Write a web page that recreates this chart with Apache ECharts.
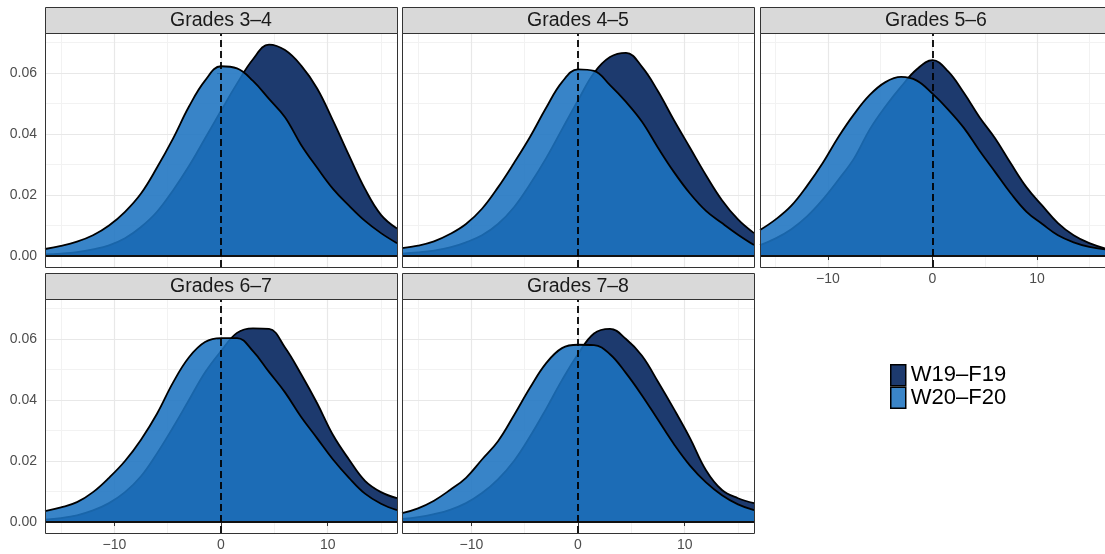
<!DOCTYPE html>
<html>
<head>
<meta charset="utf-8">
<script src="https://cdn.jsdelivr.net/npm/echarts@6/dist/echarts.min.js"></script>
<style>
  html, body { margin: 0; padding: 0; background: #fff; }
  #chart { width: 1105px; height: 554px; }
</style>
</head>
<body>
<div id="chart"></div>
<script>
const xs = [-16.5, -15, -13.5, -12, -10.5, -9, -7.5, -6, -4.5, -3, -1.5, 0,
            1.5, 3, 4.5, 6, 7.5, 9, 10.5, 12, 13.5, 15, 16.5];

const panelTitles = ['Grades 3–4', 'Grades 4–5', 'Grades 5–6', 'Grades 6–7', 'Grades 7–8'];
const seriesNames = ['W19–F19', 'W20–F20'];

const w19Grades34 = [0.0005, 0.0008, 0.0013, 0.0022, 0.0035, 0.0058, 0.0095, 0.0145, 0.0215, 0.0295, 0.0385, 0.0476,
                     0.0565, 0.0645, 0.0693, 0.0675, 0.0625, 0.0550, 0.0444, 0.0330, 0.0220, 0.0135, 0.0090];
const w20Grades34 = [0.0023, 0.0033, 0.0047, 0.0068, 0.0100, 0.0145, 0.0205, 0.0290, 0.0385, 0.0490, 0.0575, 0.0622,
                     0.0615, 0.0574, 0.0515, 0.0455, 0.0365, 0.0290, 0.0220, 0.0165, 0.0115, 0.0075, 0.0042];

const w19Grades45 = [0.0008, 0.0012, 0.0018, 0.0028, 0.0045, 0.0068, 0.0105, 0.0160, 0.0235, 0.0320, 0.0415, 0.0510,
                     0.0600, 0.0652, 0.0666, 0.0620, 0.0540, 0.0445, 0.0355, 0.0265, 0.0183, 0.0120, 0.0075];
const w20Grades45 = [0.0026, 0.0034, 0.0048, 0.0072, 0.0105, 0.0155, 0.0225, 0.0305, 0.0390, 0.0485, 0.0570, 0.0612,
                     0.0607, 0.0560, 0.0505, 0.0440, 0.0355, 0.0275, 0.0205, 0.0148, 0.0108, 0.0070, 0.0036];

const w19Grades56 = [0.0036, 0.0058, 0.0088, 0.0130, 0.0185, 0.0250, 0.0320, 0.0415, 0.0490, 0.0555, 0.0612, 0.0642,
                     0.0605, 0.0535, 0.0455, 0.0385, 0.0303, 0.0225, 0.0165, 0.0108, 0.0068, 0.0042, 0.0025];
const w20Grades56 = [0.0085, 0.0120, 0.0165, 0.0230, 0.0305, 0.0390, 0.0465, 0.0528, 0.0570, 0.0587, 0.0575, 0.0532,
                     0.0480, 0.0420, 0.0345, 0.0275, 0.0205, 0.0145, 0.0105, 0.0068, 0.0045, 0.0030, 0.0022];

const w19Grades67 = [0.0008, 0.0013, 0.0022, 0.0038, 0.0062, 0.0098, 0.0150, 0.0225, 0.0310, 0.0400, 0.0490, 0.0560,
                     0.0620, 0.0635, 0.0633, 0.0572, 0.0485, 0.0390, 0.0285, 0.0205, 0.0135, 0.0098, 0.0078];
const w20Grades67 = [0.0036, 0.0048, 0.0065, 0.0098, 0.0145, 0.0200, 0.0270, 0.0355, 0.0457, 0.0540, 0.0590, 0.0603,
                     0.0603, 0.0560, 0.0492, 0.0425, 0.0345, 0.0275, 0.0205, 0.0145, 0.0093, 0.0060, 0.0039];

const w19Grades78 = [0.0010, 0.0016, 0.0026, 0.0040, 0.0062, 0.0095, 0.0140, 0.0200, 0.0280, 0.0370, 0.0465, 0.0550,
                     0.0618, 0.0633, 0.0600, 0.0545, 0.0460, 0.0370, 0.0275, 0.0170, 0.0105, 0.0078, 0.0062];
const w20Grades78 = [0.0029, 0.0045, 0.0070, 0.0105, 0.0145, 0.0205, 0.0265, 0.0350, 0.0440, 0.0520, 0.0570, 0.0581,
                     0.0580, 0.0550, 0.0488, 0.0415, 0.0335, 0.0255, 0.0185, 0.0130, 0.0088, 0.0058, 0.0039];

const w19Data = [w19Grades34, w19Grades45, w19Grades56, w19Grades67, w19Grades78];
const w20Data = [w20Grades34, w20Grades45, w20Grades56, w20Grades67, w20Grades78];

const xTicks = [-10, 0, 10];
const yTicks = [0, 0.02, 0.04, 0.06];
const xRange = [-16.5, 16.5];
const yRange = [-0.0036, 0.0731];
const refX = 0;
const refY = 0;

// Layout (facet grid 3 x 2)
const FONT = '"Liberation Sans", Arial, Helvetica, sans-serif';
const colLeft = [45, 402, 760];
const rowTop = [33, 299];
const panelW = 352, panelH = 234, stripH = 26;
const darkBlue = '#1d3a6e';
const midBlue = '#1d73c0';
const legendLight = '#3a85c8';

function fmtX(v) { return v < 0 ? '−' + Math.abs(v) : String(v); }

const grids = [], xAxes = [], yAxes = [], series = [], graphics = [];

panelTitles.forEach((title, i) => {
    const col = i % 3, row = Math.floor(i / 3);
    const left = colLeft[col], top = rowTop[row];
    const showX = (i >= 2);
    const showY = (col === 0);

    grids.push({ left: left, top: top, width: panelW, height: panelH, show: false });

    // minor grid lines
    xAxes.push({
        gridIndex: i, type: 'value', min: xRange[0], max: xRange[1], splitNumber: 7, z: -1,
        position: 'top', axisLine: { show: false }, axisTick: { show: false }, axisLabel: { show: false },
        splitLine: { lineStyle: { color: '#f2f2f2', width: 1 } }
    });
    yAxes.push({
        gridIndex: i, type: 'value', min: yRange[0], max: yRange[1], splitNumber: 8, z: -1,
        position: 'right', axisLine: { show: false }, axisTick: { show: false }, axisLabel: { show: false },
        splitLine: { lineStyle: { color: '#f2f2f2', width: 1 } }
    });
    // major axes
    xAxes.push({
        gridIndex: i, type: 'value', min: xRange[0], max: xRange[1], splitNumber: 3,
        position: 'bottom', axisLine: { show: false },
        axisTick: { show: showX, length: 4, customValues: xTicks, lineStyle: { color: '#333' } },
        axisLabel: { show: showX, customValues: xTicks, margin: 5, color: '#4d4d4d', fontSize: 14,
                     fontFamily: FONT, formatter: fmtX },
        splitLine: { lineStyle: { color: '#e8e8e8', width: 1.2 } }
    });
    yAxes.push({
        gridIndex: i, type: 'value', min: yRange[0], max: yRange[1], splitNumber: 4,
        position: 'left', axisLine: { show: false },
        axisTick: { show: showY, length: 4, customValues: yTicks, lineStyle: { color: '#333' } },
        axisLabel: { show: showY, customValues: yTicks, margin: 8, color: '#4d4d4d', fontSize: 14,
                     fontFamily: FONT, formatter: v => v.toFixed(2) },
        splitLine: { lineStyle: { color: '#e8e8e8', width: 1.2 } }
    });

    const xi = 2 * i + 1, yi = 2 * i + 1;
    series.push({
        type: 'line', name: seriesNames[0], xAxisIndex: xi, yAxisIndex: yi, z: 2,
        data: xs.map((x, k) => [x, w19Data[i][k]]),
        smooth: 0.4, symbol: 'none',
        lineStyle: { color: '#000', width: 1.8 },
        itemStyle: { color: darkBlue },
        areaStyle: { color: darkBlue, opacity: 1 }
    });
    series.push({
        type: 'line', name: seriesNames[1], xAxisIndex: xi, yAxisIndex: yi, z: 3,
        data: xs.map((x, k) => [x, w20Data[i][k]]),
        smooth: 0.4, symbol: 'none',
        lineStyle: { color: '#000', width: 1.8 },
        itemStyle: { color: legendLight },
        areaStyle: { color: midBlue, opacity: 0.88 },
        markLine: {
            silent: true, symbol: ['none', 'none'], label: { show: false }, animation: false, z: 6,
            data: [
                { yAxis: refY, lineStyle: { color: '#111', width: 2, type: 'solid' } },
                { xAxis: refX, lineStyle: { color: '#000', width: 1.8, type: [7, 4] } }
            ]
        }
    });

    // strip and panel border
    graphics.push({
        type: 'rect', z: 100,
        shape: { x: left + 0.5, y: top - stripH + 0.5, width: panelW, height: stripH },
        style: { fill: '#d9d9d9', stroke: '#333', lineWidth: 1 }
    });
    graphics.push({
        type: 'text', z: 101,
        x: left + panelW / 2, y: top - stripH / 2 + 1,
        style: { text: title, fill: '#1a1a1a', fontSize: 19.5, fontFamily: FONT, align: 'center', verticalAlign: 'middle' }
    });
    graphics.push({
        type: 'rect', z: 100,
        shape: { x: left + 0.5, y: top + 0.5, width: panelW, height: panelH },
        style: { fill: 'none', stroke: '#333', lineWidth: 1 }
    });
});

const chart = echarts.init(document.getElementById('chart'));
chart.setOption({
    animation: false,
    backgroundColor: '#fff',
    grid: grids,
    xAxis: xAxes,
    yAxis: yAxes,
    series: series,
    graphic: graphics,
    legend: {
        orient: 'vertical', left: 890, top: 364, padding: 0,
        itemWidth: 15, itemHeight: 21, itemGap: 0, icon: 'rect', selectedMode: false,
        textStyle: { fontSize: 22, lineHeight: 21, color: '#000', fontFamily: FONT },
        data: [
            { name: seriesNames[0], itemStyle: { color: darkBlue, borderColor: '#000', borderWidth: 1.5 } },
            { name: seriesNames[1], itemStyle: { color: legendLight, borderColor: '#000', borderWidth: 1.5 } }
        ]
    }
});
</script>
</body>
</html>
